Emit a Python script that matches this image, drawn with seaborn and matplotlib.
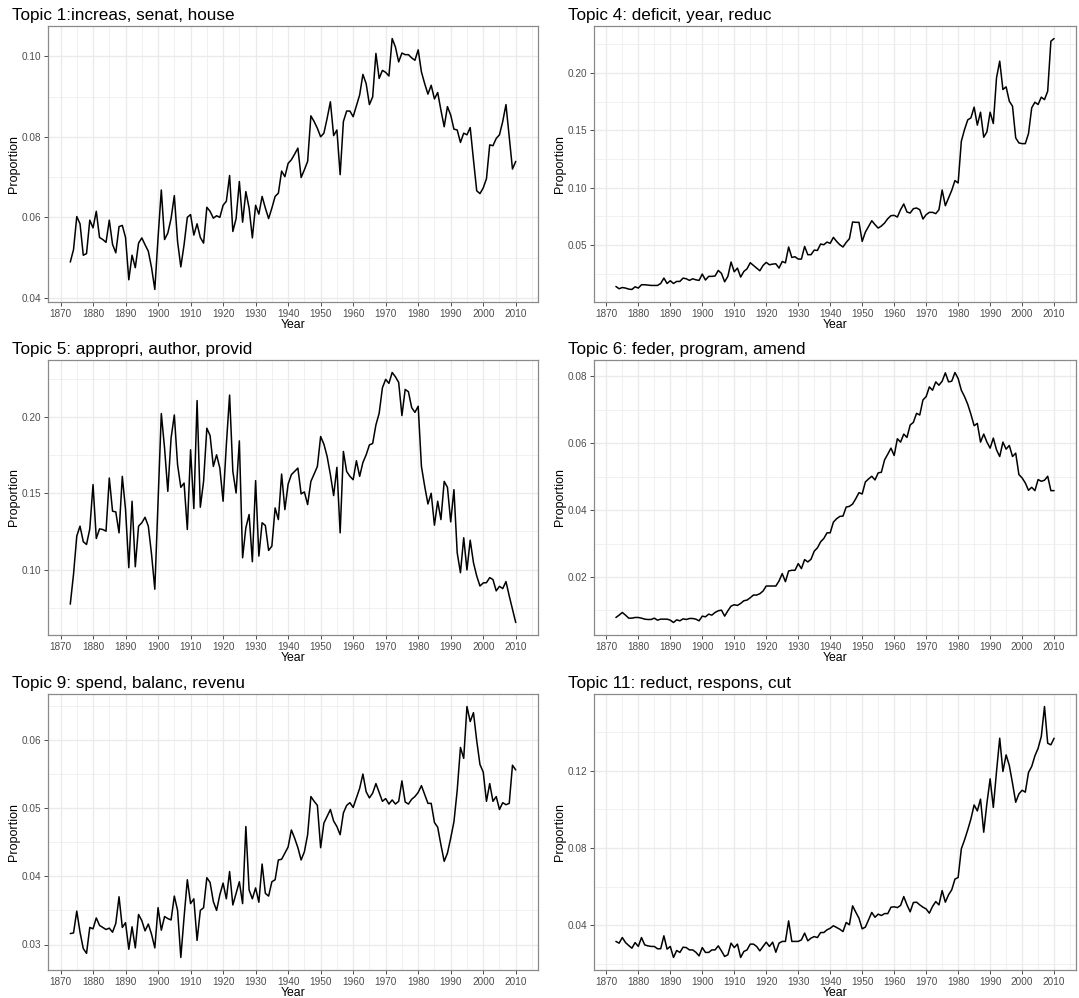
import matplotlib
matplotlib.use("Agg")
import matplotlib.pyplot as plt
import seaborn as sns
import pandas as pd
import numpy as np
from matplotlib.ticker import FixedLocator, FormatStrFormatter

years = list(range(1873, 2011))

topic1 = [0.0489, 0.0520, 0.0602, 0.0584, 0.0506, 0.0510, 0.0593, 0.0574, 0.0615, 0.0550,
          0.0545, 0.0538, 0.0593, 0.0533, 0.0512, 0.0577, 0.0580, 0.0550, 0.0445, 0.0506,
          0.0475, 0.0536, 0.0549, 0.0532, 0.0516, 0.0475, 0.0421, 0.0550, 0.0668, 0.0545,
          0.0561, 0.0597, 0.0654, 0.0540, 0.0477, 0.0532, 0.0600, 0.0607, 0.0556, 0.0584,
          0.0550, 0.0536, 0.0625, 0.0615, 0.0598, 0.0604, 0.0600, 0.0630, 0.0640, 0.0704,
          0.0565, 0.0597, 0.0689, 0.0588, 0.0664, 0.0623, 0.0549, 0.0630, 0.0608, 0.0652,
          0.0623, 0.0597, 0.0623, 0.0652, 0.0660, 0.0715, 0.0701, 0.0734, 0.0743, 0.0757,
          0.0772, 0.0699, 0.0718, 0.0739, 0.0852, 0.0838, 0.0821, 0.0800, 0.0809, 0.0846,
          0.0887, 0.0803, 0.0817, 0.0706, 0.0838, 0.0864, 0.0864, 0.0850, 0.0877, 0.0904,
          0.0955, 0.0932, 0.0880, 0.0899, 0.1007, 0.0945, 0.0965, 0.0960, 0.0951, 0.1044,
          0.1023, 0.0986, 0.1008, 0.1004, 0.1004, 0.0996, 0.0990, 0.1016, 0.0961, 0.0932,
          0.0906, 0.0928, 0.0894, 0.0910, 0.0866, 0.0825, 0.0875, 0.0854, 0.0819, 0.0817,
          0.0786, 0.0809, 0.0805, 0.0823, 0.0743, 0.0666, 0.0659, 0.0673, 0.0696, 0.0780,
          0.0778, 0.0796, 0.0805, 0.0838, 0.0880, 0.0800, 0.0720, 0.0739]

topic4 = [0.0139, 0.0119, 0.0130, 0.0125, 0.0116, 0.0113, 0.0136, 0.0125, 0.0154, 0.0154,
          0.0151, 0.0148, 0.0148, 0.0148, 0.0165, 0.0212, 0.0165, 0.0189, 0.0165, 0.0183,
          0.0183, 0.0212, 0.0206, 0.0192, 0.0206, 0.0197, 0.0192, 0.0247, 0.0195, 0.0227,
          0.0227, 0.0230, 0.0279, 0.0253, 0.0180, 0.0227, 0.0352, 0.0267, 0.0299, 0.0221,
          0.0270, 0.0293, 0.0346, 0.0322, 0.0299, 0.0276, 0.0322, 0.0349, 0.0328, 0.0334,
          0.0337, 0.0299, 0.0357, 0.0345, 0.0483, 0.0392, 0.0398, 0.0378, 0.0378, 0.0488,
          0.0416, 0.0416, 0.0456, 0.0453, 0.0509, 0.0503, 0.0526, 0.0515, 0.0567, 0.0532,
          0.0503, 0.0483, 0.0523, 0.0555, 0.0701, 0.0698, 0.0698, 0.0532, 0.0613, 0.0663,
          0.0712, 0.0678, 0.0648, 0.0666, 0.0692, 0.0730, 0.0756, 0.0759, 0.0744, 0.0808,
          0.0858, 0.0788, 0.0779, 0.0817, 0.0823, 0.0808, 0.0727, 0.0765, 0.0785, 0.0785,
          0.0774, 0.0808, 0.0980, 0.0843, 0.0910, 0.0977, 0.1062, 0.1041, 0.1405, 0.1507,
          0.1591, 0.1609, 0.1702, 0.1545, 0.1658, 0.1440, 0.1487, 0.1658, 0.1559, 0.1958,
          0.2103, 0.1856, 0.1879, 0.1754, 0.1710, 0.1434, 0.1390, 0.1384, 0.1384, 0.1472,
          0.1696, 0.1745, 0.1725, 0.1789, 0.1768, 0.1841, 0.2277, 0.2300]

topic5 = [0.0774, 0.0970, 0.1220, 0.1285, 0.1183, 0.1165, 0.1267, 0.1557, 0.1204, 0.1267,
          0.1263, 0.1252, 0.1600, 0.1383, 0.1378, 0.1241, 0.1611, 0.1393, 0.1013, 0.1448,
          0.1019, 0.1285, 0.1307, 0.1343, 0.1285, 0.1100, 0.0872, 0.1450, 0.2022, 0.1796,
          0.1513, 0.1861, 0.2013, 0.1687, 0.1539, 0.1567, 0.1263, 0.1785, 0.1400, 0.2107,
          0.1409, 0.1578, 0.1926, 0.1878, 0.1676, 0.1752, 0.1665, 0.1448, 0.1817, 0.2143,
          0.1643, 0.1502, 0.1843, 0.1078, 0.1274, 0.1361, 0.1052, 0.1583, 0.1089, 0.1307,
          0.1289, 0.1126, 0.1154, 0.1404, 0.1328, 0.1626, 0.1393, 0.1560, 0.1622, 0.1643,
          0.1665, 0.1496, 0.1509, 0.1426, 0.1578, 0.1626, 0.1676, 0.1872, 0.1822, 0.1741,
          0.1622, 0.1485, 0.1670, 0.1241, 0.1774, 0.1643, 0.1611, 0.1589, 0.1713, 0.1611,
          0.1702, 0.1752, 0.1817, 0.1826, 0.1948, 0.2024, 0.2191, 0.2246, 0.2220, 0.2291,
          0.2263, 0.2226, 0.2009, 0.2180, 0.2165, 0.2061, 0.2030, 0.2070, 0.1676, 0.1546,
          0.1430, 0.1500, 0.1291, 0.1448, 0.1328, 0.1578, 0.1539, 0.1313, 0.1524, 0.1111,
          0.0980, 0.1209, 0.0998, 0.1193, 0.1046, 0.0959, 0.0893, 0.0913, 0.0915, 0.0948,
          0.0935, 0.0861, 0.0891, 0.0876, 0.0922, 0.0828, 0.0741, 0.0654]

topic6 = [0.0079, 0.0086, 0.0094, 0.0086, 0.0077, 0.0077, 0.0079, 0.0079, 0.0077, 0.0074,
          0.0073, 0.0073, 0.0077, 0.0071, 0.0074, 0.0074, 0.0074, 0.0071, 0.0064, 0.0072,
          0.0069, 0.0075, 0.0073, 0.0076, 0.0076, 0.0074, 0.0069, 0.0083, 0.0081, 0.0089,
          0.0086, 0.0094, 0.0099, 0.0101, 0.0083, 0.0099, 0.0113, 0.0117, 0.0115, 0.0121,
          0.0129, 0.0131, 0.0138, 0.0146, 0.0146, 0.0150, 0.0158, 0.0173, 0.0173, 0.0173,
          0.0173, 0.0188, 0.0210, 0.0186, 0.0218, 0.0220, 0.0220, 0.0240, 0.0225, 0.0252,
          0.0245, 0.0253, 0.0277, 0.0287, 0.0305, 0.0315, 0.0332, 0.0332, 0.0364, 0.0374,
          0.0381, 0.0382, 0.0409, 0.0411, 0.0418, 0.0434, 0.0452, 0.0448, 0.0484, 0.0493,
          0.0501, 0.0490, 0.0511, 0.0513, 0.0550, 0.0567, 0.0585, 0.0563, 0.0613, 0.0603,
          0.0627, 0.0617, 0.0654, 0.0662, 0.0689, 0.0684, 0.0729, 0.0739, 0.0768, 0.0758,
          0.0783, 0.0773, 0.0785, 0.0810, 0.0783, 0.0785, 0.0811, 0.0793, 0.0758, 0.0739,
          0.0716, 0.0686, 0.0652, 0.0659, 0.0603, 0.0627, 0.0603, 0.0585, 0.0615, 0.0580,
          0.0560, 0.0603, 0.0582, 0.0593, 0.0560, 0.0570, 0.0506, 0.0496, 0.0481, 0.0459,
          0.0468, 0.0458, 0.0491, 0.0486, 0.0489, 0.0501, 0.0458, 0.0458]

topic9 = [0.0316, 0.0317, 0.0349, 0.0318, 0.0294, 0.0287, 0.0325, 0.0323, 0.0339, 0.0328,
          0.0325, 0.0322, 0.0324, 0.0318, 0.0331, 0.0370, 0.0325, 0.0332, 0.0293, 0.0326,
          0.0295, 0.0344, 0.0335, 0.0320, 0.0330, 0.0315, 0.0295, 0.0354, 0.0321, 0.0341,
          0.0338, 0.0336, 0.0371, 0.0350, 0.0281, 0.0340, 0.0395, 0.0360, 0.0367, 0.0306,
          0.0350, 0.0354, 0.0398, 0.0391, 0.0363, 0.0350, 0.0373, 0.0390, 0.0367, 0.0407,
          0.0358, 0.0375, 0.0392, 0.0360, 0.0473, 0.0380, 0.0367, 0.0383, 0.0362, 0.0418,
          0.0375, 0.0371, 0.0392, 0.0395, 0.0424, 0.0425, 0.0434, 0.0443, 0.0468, 0.0456,
          0.0442, 0.0424, 0.0436, 0.0461, 0.0517, 0.0510, 0.0504, 0.0442, 0.0478, 0.0488,
          0.0498, 0.0481, 0.0473, 0.0461, 0.0493, 0.0504, 0.0508, 0.0501, 0.0515, 0.0529,
          0.0550, 0.0524, 0.0515, 0.0522, 0.0536, 0.0523, 0.0510, 0.0514, 0.0506, 0.0512,
          0.0506, 0.0510, 0.0540, 0.0509, 0.0506, 0.0513, 0.0517, 0.0523, 0.0533, 0.0520,
          0.0507, 0.0507, 0.0479, 0.0472, 0.0446, 0.0422, 0.0434, 0.0456, 0.0480, 0.0526,
          0.0589, 0.0573, 0.0649, 0.0627, 0.0640, 0.0599, 0.0564, 0.0553, 0.0510, 0.0536,
          0.0510, 0.0517, 0.0498, 0.0508, 0.0505, 0.0507, 0.0563, 0.0556]

topic11 = [0.0316, 0.0307, 0.0336, 0.0310, 0.0295, 0.0281, 0.0310, 0.0290, 0.0336, 0.0298,
           0.0293, 0.0290, 0.0290, 0.0278, 0.0278, 0.0345, 0.0276, 0.0290, 0.0233, 0.0269,
           0.0259, 0.0286, 0.0284, 0.0272, 0.0272, 0.0260, 0.0241, 0.0284, 0.0259, 0.0259,
           0.0272, 0.0272, 0.0293, 0.0267, 0.0238, 0.0247, 0.0307, 0.0284, 0.0302, 0.0233,
           0.0264, 0.0272, 0.0302, 0.0302, 0.0290, 0.0267, 0.0290, 0.0312, 0.0290, 0.0312,
           0.0260, 0.0307, 0.0316, 0.0316, 0.0422, 0.0316, 0.0316, 0.0316, 0.0324, 0.0359,
           0.0319, 0.0333, 0.0341, 0.0336, 0.0362, 0.0362, 0.0376, 0.0384, 0.0397, 0.0388,
           0.0379, 0.0367, 0.0414, 0.0402, 0.0500, 0.0467, 0.0436, 0.0381, 0.0390, 0.0428,
           0.0466, 0.0441, 0.0457, 0.0450, 0.0460, 0.0460, 0.0493, 0.0495, 0.0491, 0.0502,
           0.0548, 0.0505, 0.0469, 0.0517, 0.0519, 0.0505, 0.0493, 0.0484, 0.0462, 0.0497,
           0.0522, 0.0505, 0.0579, 0.0519, 0.0557, 0.0583, 0.0638, 0.0647, 0.0795, 0.0841,
           0.0893, 0.0950, 0.1022, 0.0991, 0.1052, 0.0881, 0.1031, 0.1157, 0.1009, 0.1195,
           0.1367, 0.1195, 0.1281, 0.1226, 0.1134, 0.1036, 0.1079, 0.1098, 0.1088, 0.1190,
           0.1221, 0.1276, 0.1315, 0.1376, 0.1531, 0.1341, 0.1333, 0.1367]

titles = ["Topic 1:increas, senat, house", "Topic 4: deficit, year, reduc",
          "Topic 5: appropri, author, provid", "Topic 6: feder, program, amend",
          "Topic 9: spend, balanc, revenu", "Topic 11: reduct, respons, cut"]
series = [topic1, topic4, topic5, topic6, topic9, topic11]
y_ticks = [[0.04, 0.06, 0.08, 0.10], [0.05, 0.10, 0.15, 0.20],
           [0.10, 0.15, 0.20], [0.02, 0.04, 0.06, 0.08],
           [0.03, 0.04, 0.05, 0.06], [0.04, 0.08, 0.12]]
x_ticks = list(range(1870, 2011, 10))

sns.set_theme(style="white")
plt.rcParams['font.family'] = ['Liberation Sans', 'DejaVu Sans']

W, H = 1079, 998
fig = plt.figure(figsize=(W / 100, H / 100), dpi=100)

cols = [(48, 538), (594, 1076)]
rows = [(26, 302), (360, 635), (694, 970)]

for i, (title, vals, yt) in enumerate(zip(titles, series, y_ticks)):
    r, c = divmod(i, 2)
    x0, x1 = cols[c]
    y0, y1 = rows[r]
    ax = fig.add_axes([x0 / W, 1 - y1 / H, (x1 - x0) / W, (y1 - y0) / H])
    df = pd.DataFrame({"Year": years, "Proportion": vals})
    sns.lineplot(data=df, x="Year", y="Proportion", ax=ax, color="black", linewidth=1.1)
    lo, hi = min(vals), max(vals)
    pad = (hi - lo) * 0.05
    ax.set_ylim(lo - pad, hi + pad)
    xpad = (years[-1] - years[0]) * 0.05
    ax.set_xlim(years[0] - xpad, years[-1] + xpad)
    ax.xaxis.set_major_locator(FixedLocator(x_ticks))
    ax.xaxis.set_minor_locator(FixedLocator([t + 5 for t in range(1860, 2020, 10)]))
    ax.yaxis.set_major_locator(FixedLocator(yt))
    step = yt[1] - yt[0]
    ax.yaxis.set_minor_locator(FixedLocator([yt[0] - step / 2 + k * step for k in range(len(yt) + 1)]))
    ax.yaxis.set_major_formatter(FormatStrFormatter('%.2f'))
    ax.grid(which='major', color='#EBEBEB', linewidth=1.0)
    ax.grid(which='minor', color='#EBEBEB', linewidth=0.5)
    ax.set_axisbelow(True)
    for s in ax.spines.values():
        s.set_color('#8a8a8a')
        s.set_linewidth(0.9)
    ax.tick_params(axis='both', which='major', direction='out', length=3, width=0.7,
                   color='#4d4d4d', labelsize=7.2, labelcolor='#4d4d4d', pad=2,
                   bottom=True, left=True)
    ax.tick_params(axis='both', which='minor', length=0)
    ax.set_xlabel("Year", fontsize=8.8, color='black', labelpad=0)
    ax.set_ylabel("Proportion", fontsize=9, color='black', labelpad=1)
    ax.set_title(title, loc='left', fontsize=12.3, color='black', pad=4,
                 x=-0.074 if c == 0 else -0.054)

fig.savefig("out.png", dpi=100)
